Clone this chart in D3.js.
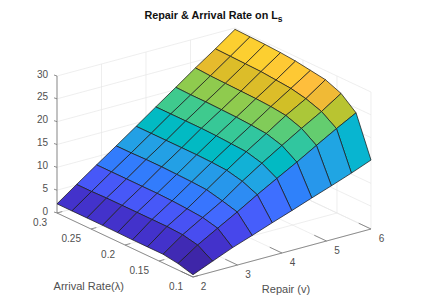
<!DOCTYPE html>
<html><head><meta charset="utf-8">
<script src="https://cdn.jsdelivr.net/npm/d3@7"></script>
<style>html,body{margin:0;background:#fff}svg{display:block}text{font-family:"Liberation Sans",Arial,sans-serif}</style>
</head><body><svg id="c" width="423" height="307"></svg>
<script>
const repairValues=[2,2.44,2.89,3.33,3.78,4.22,4.67,5.11,5.56,6];
const arrivalValues=[0.1,0.122,0.144,0.167,0.189,0.211,0.233,0.256,0.278,0.3];
// Ls: one row per arrival rate, one column per repair rate
const lsRow0=[0.5,2.3,4.1,5.6,7.2,8.7,10.3,11.8,13.4,15.1];
const lsRow1=[1.4,4.3,6.8,9.2,11.8,14.2,16.6,19.1,21.6,23.9];
const lsRow2=[1.9,5.0,7.6,10.1,13.2,16.0,18.7,21.3,23.8,26.6];
const lsRow3=[1.9,5.2,7.9,10.9,14.0,16.9,19.7,22.5,25.0,28.0];
const lsRow4=[1.9,5.2,8.1,11.1,14.2,17.1,20.0,22.9,25.7,28.5];
const lsRow5=[1.95,5.2,8.2,11.2,14.3,17.3,20.2,23.1,26.0,29.0];
const lsRow6=[2.0,5.2,8.2,11.3,14.3,17.4,20.3,23.2,26.3,29.3];
const lsRow7=[2.0,5.2,8.2,11.3,14.3,17.4,20.4,23.3,26.4,29.5];
const lsRow8=[2.0,5.1,8.2,11.2,14.3,17.4,20.4,23.4,26.5,29.6];
const lsRow9=[2.0,5.1,8.2,11.2,14.3,17.4,20.5,23.6,26.6,29.7];
const lsRows=[lsRow0,lsRow1,lsRow2,lsRow3,lsRow4,lsRow5,lsRow6,lsRow7,lsRow8,lsRow9];
const repairTicks=[2,3,4,5,6];
const arrivalTicks=[0.1,0.15,0.2,0.25,0.3];
const arrivalTickLabels=["0.1","0.15","0.2","0.25","0.3"];
const zTicks=[0,5,10,15,20,25,30];

const parula=[[.2422,.1504,.6603],[.2504,.165,.7076],[.2578,.1818,.7511],[.2647,.1978,.7952],[.2706,.2147,.8364],[.2751,.2342,.871],[.2783,.2559,.8991],[.2803,.2782,.9221],[.2813,.3006,.9414],[.281,.3228,.9579],[.2795,.3447,.9717],[.276,.3667,.9829],[.2699,.3892,.9906],[.2602,.4123,.9952],[.244,.4358,.9988],[.2206,.4603,.9973],[.1963,.4847,.9892],[.1834,.5074,.9798],[.1786,.5289,.9682],[.1764,.5499,.952],[.1687,.5703,.9359],[.154,.5902,.9218],[.146,.6091,.9079],[.138,.6276,.8973],[.1248,.6459,.8883],[.1113,.6635,.8763],[.0952,.6798,.8598],[.0689,.6948,.8394],[.0297,.7082,.8163],[.0036,.7203,.7917],[.0067,.7312,.766],[.0433,.7411,.7394],[.0964,.75,.712],[.1408,.7584,.6842],[.1717,.767,.6554],[.1938,.7758,.6251],[.2161,.7843,.5923],[.247,.7918,.5567],[.2906,.7973,.5188],[.3406,.8008,.4789],[.3909,.8029,.4354],[.4456,.8024,.3909],[.5044,.7993,.348],[.5616,.7942,.3045],[.6174,.7876,.2612],[.672,.7793,.2227],[.7242,.7698,.191],[.7738,.7598,.1646],[.8203,.7498,.1535],[.8634,.7406,.1596],[.9035,.733,.1774],[.9393,.7288,.21],[.9728,.7298,.2394],[.9956,.7434,.2371],[.997,.7659,.2199],[.9952,.7893,.2028],[.9892,.8136,.1885],[.9786,.8386,.1766],[.9676,.8639,.1643],[.961,.889,.1537],[.9597,.9135,.1423],[.9628,.9373,.1265],[.9691,.9606,.1064],[.9769,.9839,.0805]]
 .map(c=>d3.rgb(c[0]*255,c[1]*255,c[2]*255).formatHex());

const originX=193, originY=277;
const xFromRepair=d3.scaleLinear().domain([2,6]).range([0,178]);
const xFromArrival=d3.scaleLinear().domain([0.1,0.3]).range([0,-136]);
const yFromRepair=d3.scaleLinear().domain([2,6]).range([0,-48]);
const yFromArrival=d3.scaleLinear().domain([0.1,0.3]).range([0,-64]);
const yFromZ=d3.scaleLinear().domain([0,30]).range([0,-137]);
const project=(v,l,z)=>[originX+xFromRepair(v)+xFromArrival(l), originY+yFromRepair(v)+yFromArrival(l)+yFromZ(z)];
const color=d3.scaleQuantize().domain(d3.extent(lsRows.flat())).range(parula);

const svg=d3.select("#c");
const path=d3.line();
const gridCol="#e6e6e6", axisCol="#737373", textCol="#505050";
const grid=svg.append("g").attr("fill","none").attr("stroke",gridCol).attr("stroke-width",0.7);
const seg=(g,a,b)=>g.append("path").attr("d",path([a,b]));
repairTicks.forEach(v=>{
  seg(grid,project(v,0.1,0),project(v,0.3,0));
  seg(grid,project(v,0.3,0),project(v,0.3,30));
});
arrivalTicks.forEach(l=>{
  seg(grid,project(2,l,0),project(6,l,0));
  seg(grid,project(6,l,0),project(6,l,30));
});
zTicks.forEach(z=>{
  seg(grid,project(2,0.3,z),project(6,0.3,z));
  seg(grid,project(6,0.3,z),project(6,0.1,z));
});

const axes=svg.append("g").attr("fill","none").attr("stroke",axisCol).attr("stroke-width",0.8);
seg(axes,project(2,0.3,0),project(2,0.3,30));
seg(axes,project(2,0.3,0),project(2,0.1,0));
seg(axes,project(2,0.1,0),project(6,0.1,0));
zTicks.forEach(z=>seg(axes,project(2,0.3,z),project(2,0.3,z).map((d,k)=>d+[-3,-1][k])));
arrivalTicks.forEach(l=>seg(axes,project(2,l,0),project(2.12,l,0)));
repairTicks.forEach(v=>seg(axes,project(v,0.1,0),project(v,0.118,0)));

const faces=svg.append("g").attr("stroke","#1c1c1c").attr("stroke-width",0.75).attr("stroke-linejoin","round");
for(let j=arrivalValues.length-2;j>=0;j--){
  for(let i=repairValues.length-2;i>=0;i--){
    const pts=[[i,j],[i+1,j],[i+1,j+1],[i,j+1]].map(([a,b])=>project(repairValues[a],arrivalValues[b],lsRows[b][a]));
    faces.append("path").attr("d",path(pts)+"Z").attr("fill",color(lsRows[j][i]));
  }
}

const labels=svg.append("g").attr("fill",textCol).attr("font-size",10);
zTicks.forEach(z=>{
  const p=project(2,0.3,z);
  labels.append("text").attr("x",p[0]-9).attr("y",p[1]-2).attr("dy","0.36em").attr("text-anchor","end").text(z);
});
arrivalTicks.forEach((l,k)=>{
  const p=project(2,l,0);
  labels.append("text").attr("x",p[0]-10).attr("y",p[1]+9.5).attr("dy","0.36em").attr("text-anchor","end").text(arrivalTickLabels[k]);
});
repairTicks.forEach(v=>{
  const p=project(v,0.1,0);
  labels.append("text").attr("x",p[0]+10.5).attr("y",p[1]+9.7).attr("dy","0.36em").attr("text-anchor","middle").text(v);
});
labels.append("text").attr("x",88.7).attr("y",286).attr("dy","0.36em").attr("text-anchor","middle").attr("font-size",11).text("Arrival Rate(λ)");
labels.append("text").attr("x",286).attr("y",289.3).attr("dy","0.36em").attr("text-anchor","middle").attr("font-size",11).text("Repair (v)");

const title=svg.append("text").attr("x",213.5).attr("y",19).attr("text-anchor","middle").attr("font-size",10.8).attr("font-weight","bold").attr("fill","#111");
title.append("tspan").text("Repair & Arrival Rate on L");
title.append("tspan").attr("dy",3).attr("font-size",8.5).text("s");
</script></body></html>
